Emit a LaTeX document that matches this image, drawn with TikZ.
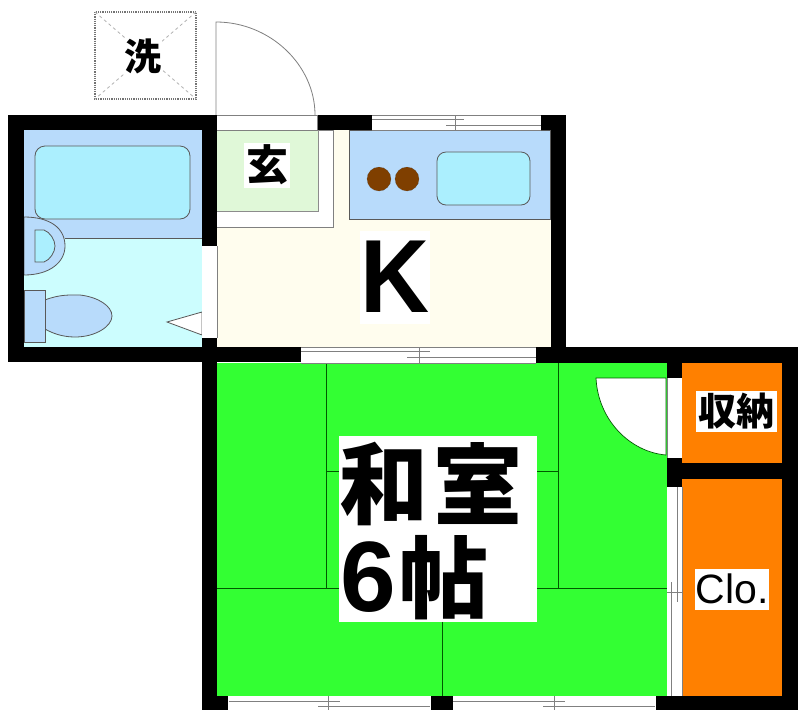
\documentclass[tikz,border=0pt]{standalone}
\usepackage{fontspec}
\setmainfont{Liberation Sans}
\newfontfamily\cjk{Noto Sans CJK JP}
\tikzset{
 wall/.style={fill=black,draw=none},
 thin line/.style={draw=black!50,line width=.8pt},
 tatami/.style={draw=black!65!green,line width=.8pt},
 fixture/.style={draw=black!65,line width=.8pt},
 label/.style={fill=white,inner sep=0pt,text=black},
}
\definecolor{bluefix}{HTML}{B8DBFB}
\definecolor{aquafix}{HTML}{ABEFFE}
\definecolor{bathfloor}{HTML}{CCFDFE}
\definecolor{kfloor}{HTML}{FFFDEE}
\definecolor{genkan}{HTML}{E0F8D8}
\definecolor{tatamigreen}{HTML}{33FF33}
\definecolor{closet}{HTML}{FF8000}
\definecolor{burner}{HTML}{7F3F00}
\begin{document}
\begin{tikzpicture}[x=1pt,y=-1pt]
\useasboundingbox[fill=white] (0,0) rectangle (802,710);
% floors
\fill[bathfloor] (24,238) rectangle (202,347);
\fill[bluefix] (24,130) rectangle (202,238);
\fill[kfloor] (217,130) rectangle (551,347);
\fill[tatamigreen] (217,363) rectangle (667,696);
\fill[closet] (682,363) rectangle (782,463);
\fill[closet] (682,479) rectangle (782,696);
% entrance
\filldraw[fill=white,thin line] (217,130) -- (333,130) -- (333,227) -- (217,227);
\filldraw[fill=genkan,draw=black!45,line width=.6pt] (217,130) -- (318,130) -- (318,211) -- (217,211);
% kitchen counter
\filldraw[fill=bluefix,fixture] (349,130) rectangle (550,219);
\filldraw[fill=aquafix,fixture,rounded corners=9pt] (437,152) rectangle (530,205);
\filldraw[fill=burner,draw=black!70,densely dotted] (379,179) circle (12);
\filldraw[fill=burner,draw=black!70,densely dotted] (407,179) circle (12);
% bath fixtures
\draw[fixture] (65,238) -- (202,238);
\filldraw[fill=aquafix,fixture,rounded corners=10pt] (35,146) rectangle (190,219);
\filldraw[fill=bluefix,fixture] (24,217) .. controls (50,217) and (65,228) .. (65,246) .. controls (65,262) and (50,275) .. (24,275) -- cycle;
\filldraw[fill=aquafix,fixture] (35,230) -- (44,230) .. controls (50,232) and (55,240) .. (55,246) .. controls (55,252) and (50,260) .. (44,262) -- (35,262) -- cycle;
\filldraw[fill=bluefix,fixture] (45,300) .. controls (60,294) and (72,295) .. (80,295) .. controls (98,297) and (112,306) .. (112,316) .. controls (112,326) and (96,337) .. (75,337) .. controls (62,337) and (52,333) .. (45,329) -- cycle;
\filldraw[fill=bluefix,fixture] (24,290) rectangle (45,342);
\filldraw[fill=white,fixture] (202,312) -- (167,322) -- (202,335) -- cycle;
% door openings
\fill[white] (202,246) rectangle (217,338);
\draw[thin line] (217,246) -- (217,338);
\filldraw[fill=white,thin line] (216,115) rectangle (317,130);
% exterior door
\draw[thin line] (216,115) -- (216,22) .. controls (270,22) and (315,65) .. (315,115);
% laundry
\draw[black!55,densely dotted,line width=1.2pt] (95,12) rectangle (196,99);
\draw[black!30,dashed,line width=.8pt] (95,12) -- (196,99) (196,12) -- (95,99);
\node[label,font=\cjk\bfseries\fontsize{37}{37}\selectfont] (wash) at (143,56) {洗};
% tatami lines
\draw[tatami] (326,363) -- (326,588) (558,363) -- (558,588) (217,588) -- (667,588)
 (326,471) -- (558,471) (442,588) -- (442,696);
% walls
\fill[wall] (8,115) rectangle (216,130);
\fill[wall] (8,115) rectangle (24,362);
\fill[wall] (8,347) rectangle (301,362);
\fill[wall] (202,115) rectangle (217,246);
\fill[wall] (202,338) rectangle (217,710);
\fill[wall] (318,115) rectangle (372,130);
\fill[wall] (541,115) rectangle (566,130);
\fill[wall] (551,115) rectangle (566,347);
\fill[wall] (536,347) rectangle (798,363);
\fill[wall] (782,347) rectangle (798,710);
\fill[wall] (656,696) rectangle (798,710);
\fill[wall] (202,696) rectangle (228,710);
\fill[wall] (431,696) rectangle (453,710);
\fill[wall] (667,363) rectangle (682,378);
\fill[wall] (667,458) rectangle (682,487);
\fill[wall] (667,463) rectangle (782,479);
% windows
\draw[thin line] (372,115) -- (541,115) (372,130) -- (541,130) (372,119) -- (464,119) (446,125) -- (541,125) (455,115) -- (455,130);
\draw[thin line] (301,347) -- (536,347) (301,363) -- (536,363) (301,351) -- (430,351) (407,357) -- (536,357) (419,347) -- (419,363);
\draw[thin line] (229,701) -- (340,701) (318,706) -- (430,706) (328,696) -- (328,710);
\draw[thin line] (453,701) -- (565,701) (543,706) -- (655,706) (554,696) -- (554,710);
% interior doors
\fill[white] (667,378) rectangle (682,458);
\filldraw[fill=white,draw=black!65!green,line width=.7pt] (596,378) -- (666,378) -- (666,455) .. controls (630,452) and (598,420) .. (596,378) -- cycle;
\draw[thin line] (667,378) -- (667,458);
\fill[white] (667,487) rectangle (682,696);
\draw[thin line] (671,582) -- (671,696) (677,487) -- (677,602) (667,592) -- (682,592) (682,487) -- (682,696);
% labels
\node[label,minimum width=46pt,minimum height=45pt,font=\cjk\bfseries\fontsize{42}{42}\selectfont] (gen) at (267,165) {玄};
\node[fill=white,minimum width=70pt,minimum height=93pt,inner sep=0pt] (kbg) at (395,277) {};
\node[inner sep=0pt,xscale=.92,font=\bfseries\fontsize{104}{104}\selectfont] (k) at (395,277) {K};
\node[label,minimum width=198pt,minimum height=186pt] (room) at (438,529) {};
\node[inner sep=0pt,font=\cjk\bfseries\fontsize{89}{89}\selectfont] (wa) at (384,484) {和};
\node[inner sep=0pt,font=\cjk\bfseries\fontsize{89}{89}\selectfont] (shitsu) at (478,484) {室};
\node[inner sep=0pt,font=\bfseries\fontsize{100}{100}\selectfont] (six) at (368,577) {6};
\node[inner sep=0pt,font=\cjk\bfseries\fontsize{89}{89}\selectfont] (cho) at (444,578) {帖};
\node[label,minimum width=81pt,minimum height=41pt,font=\cjk\bfseries\fontsize{38}{38}\selectfont] (store) at (736,411) {収納};
\node[label,minimum width=74pt,minimum height=41pt,font=\fontsize{41}{41}\selectfont] (clo) at (732,589) {Clo.};
\end{tikzpicture}
\end{document}
